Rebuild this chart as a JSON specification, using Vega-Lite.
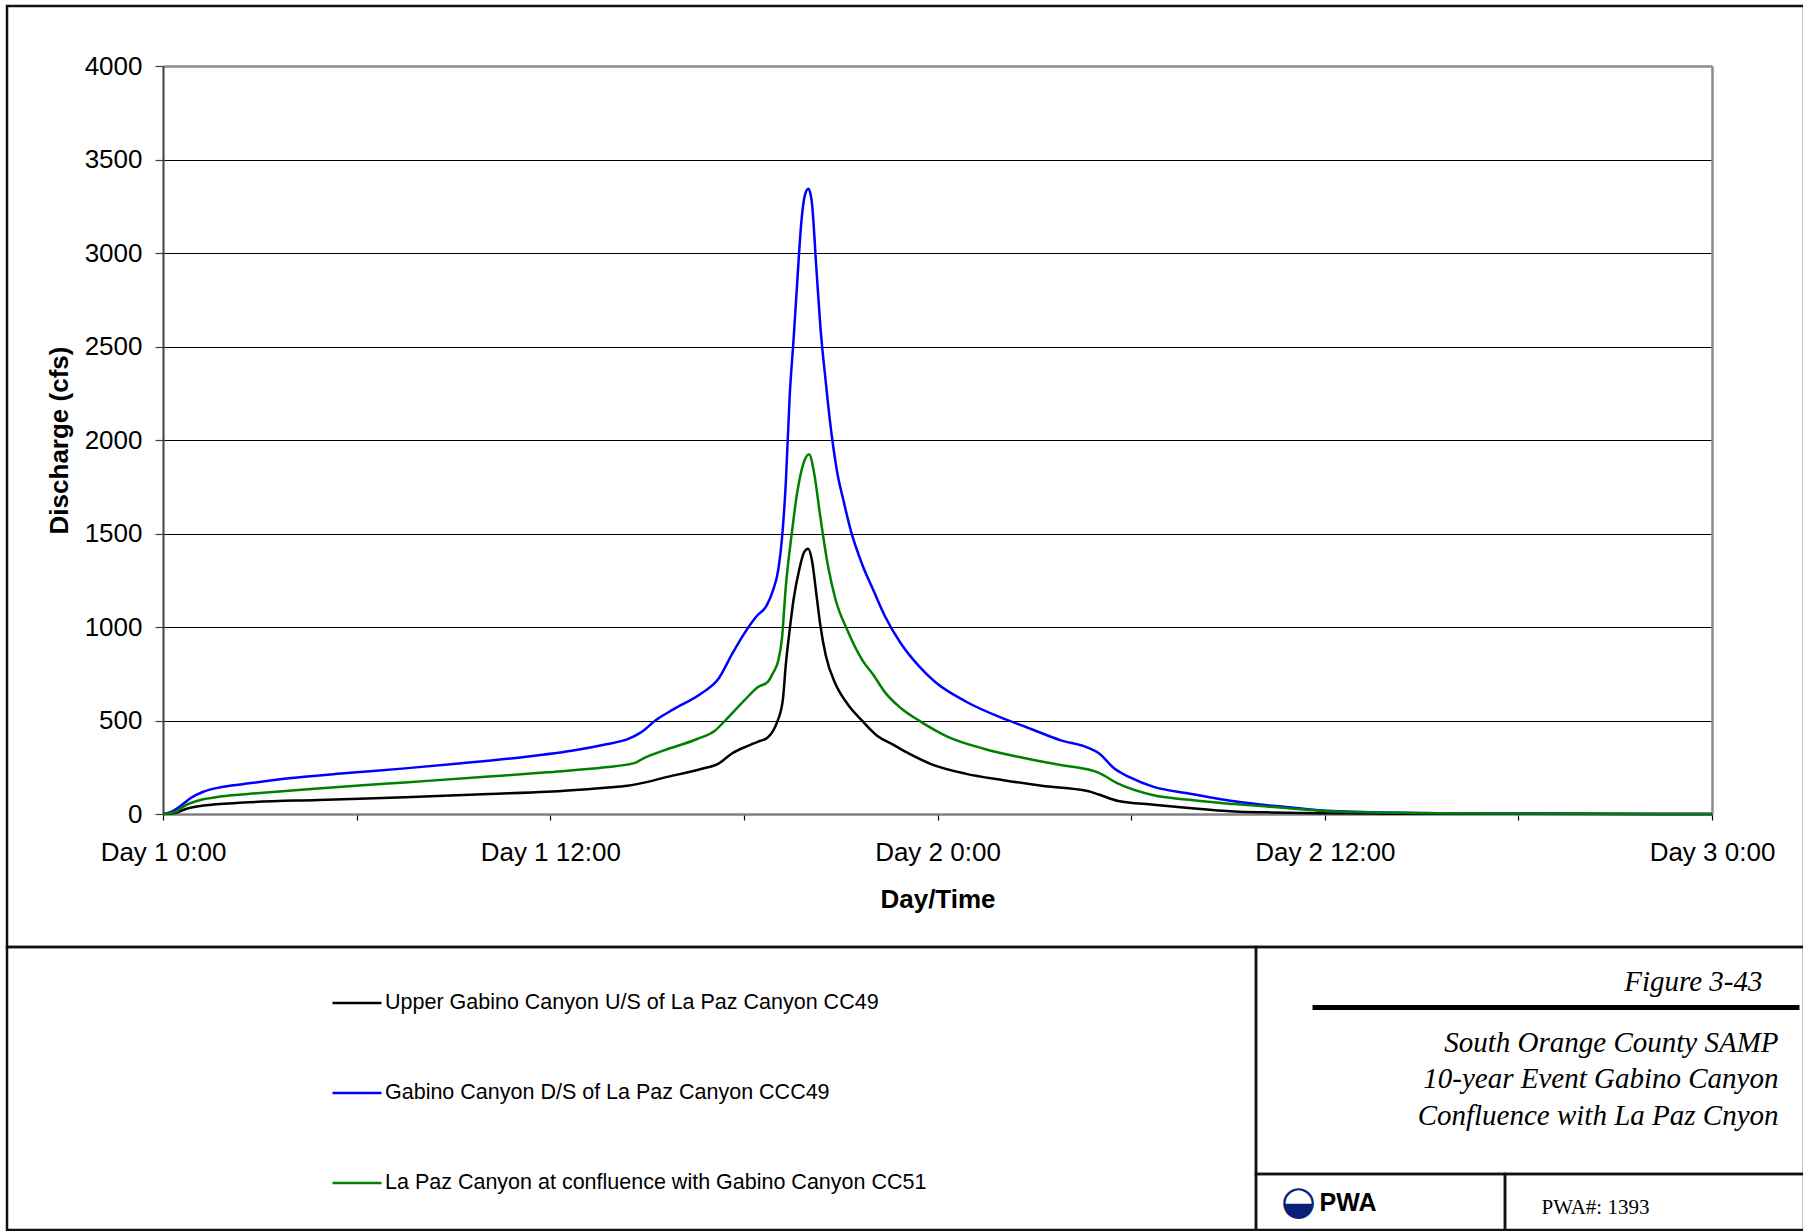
{
  "$schema": "https://vega.github.io/schema/vega-lite/v6.json",
  "background": "white",
  "padding": {"left": 5, "top": 4, "right": 1, "bottom": 3},
  "spacing": 0,
  "bounds": "flush",
  "config": {
    "view": {"stroke": "#111111", "strokeWidth": 2.5},
    "font": "Liberation Sans"
  },
  "vconcat": [
    {
      "width": 1797,
      "height": 941,
      "data": {"values": [
        {"series": "Upper Gabino Canyon U/S of La Paz Canyon CC49", "t": 0, "q": 0},
        {"series": "Upper Gabino Canyon U/S of La Paz Canyon CC49", "t": 0.36, "q": 5},
        {"series": "Upper Gabino Canyon U/S of La Paz Canyon CC49", "t": 0.71, "q": 27},
        {"series": "Upper Gabino Canyon U/S of La Paz Canyon CC49", "t": 1.25, "q": 45},
        {"series": "Upper Gabino Canyon U/S of La Paz Canyon CC49", "t": 2.5, "q": 61},
        {"series": "Upper Gabino Canyon U/S of La Paz Canyon CC49", "t": 4.8, "q": 75},
        {"series": "Upper Gabino Canyon U/S of La Paz Canyon CC49", "t": 7.5, "q": 89},
        {"series": "Upper Gabino Canyon U/S of La Paz Canyon CC49", "t": 10.1, "q": 107},
        {"series": "Upper Gabino Canyon U/S of La Paz Canyon CC49", "t": 11.9, "q": 119},
        {"series": "Upper Gabino Canyon U/S of La Paz Canyon CC49", "t": 13.7, "q": 141},
        {"series": "Upper Gabino Canyon U/S of La Paz Canyon CC49", "t": 14.4, "q": 151},
        {"series": "Upper Gabino Canyon U/S of La Paz Canyon CC49", "t": 14.95, "q": 169},
        {"series": "Upper Gabino Canyon U/S of La Paz Canyon CC49", "t": 15.5, "q": 193},
        {"series": "Upper Gabino Canyon U/S of La Paz Canyon CC49", "t": 16.7, "q": 242},
        {"series": "Upper Gabino Canyon U/S of La Paz Canyon CC49", "t": 17.2, "q": 268},
        {"series": "Upper Gabino Canyon U/S of La Paz Canyon CC49", "t": 17.64, "q": 325},
        {"series": "Upper Gabino Canyon U/S of La Paz Canyon CC49", "t": 18.12, "q": 364},
        {"series": "Upper Gabino Canyon U/S of La Paz Canyon CC49", "t": 18.47, "q": 389},
        {"series": "Upper Gabino Canyon U/S of La Paz Canyon CC49", "t": 18.72, "q": 406},
        {"series": "Upper Gabino Canyon U/S of La Paz Canyon CC49", "t": 18.89, "q": 440},
        {"series": "Upper Gabino Canyon U/S of La Paz Canyon CC49", "t": 19.04, "q": 495},
        {"series": "Upper Gabino Canyon U/S of La Paz Canyon CC49", "t": 19.21, "q": 614},
        {"series": "Upper Gabino Canyon U/S of La Paz Canyon CC49", "t": 19.3, "q": 800},
        {"series": "Upper Gabino Canyon U/S of La Paz Canyon CC49", "t": 19.42, "q": 985},
        {"series": "Upper Gabino Canyon U/S of La Paz Canyon CC49", "t": 19.54, "q": 1147},
        {"series": "Upper Gabino Canyon U/S of La Paz Canyon CC49", "t": 19.72, "q": 1310},
        {"series": "Upper Gabino Canyon U/S of La Paz Canyon CC49", "t": 19.87, "q": 1402},
        {"series": "Upper Gabino Canyon U/S of La Paz Canyon CC49", "t": 19.99, "q": 1419},
        {"series": "Upper Gabino Canyon U/S of La Paz Canyon CC49", "t": 20.11, "q": 1356},
        {"series": "Upper Gabino Canyon U/S of La Paz Canyon CC49", "t": 20.25, "q": 1171},
        {"series": "Upper Gabino Canyon U/S of La Paz Canyon CC49", "t": 20.37, "q": 1008},
        {"series": "Upper Gabino Canyon U/S of La Paz Canyon CC49", "t": 20.54, "q": 846},
        {"series": "Upper Gabino Canyon U/S of La Paz Canyon CC49", "t": 20.84, "q": 695},
        {"series": "Upper Gabino Canyon U/S of La Paz Canyon CC49", "t": 21.2, "q": 591},
        {"series": "Upper Gabino Canyon U/S of La Paz Canyon CC49", "t": 21.67, "q": 498},
        {"series": "Upper Gabino Canyon U/S of La Paz Canyon CC49", "t": 22.14, "q": 417},
        {"series": "Upper Gabino Canyon U/S of La Paz Canyon CC49", "t": 22.62, "q": 371},
        {"series": "Upper Gabino Canyon U/S of La Paz Canyon CC49", "t": 23.09, "q": 325},
        {"series": "Upper Gabino Canyon U/S of La Paz Canyon CC49", "t": 23.8, "q": 267},
        {"series": "Upper Gabino Canyon U/S of La Paz Canyon CC49", "t": 24.86, "q": 216},
        {"series": "Upper Gabino Canyon U/S of La Paz Canyon CC49", "t": 26.05, "q": 181},
        {"series": "Upper Gabino Canyon U/S of La Paz Canyon CC49", "t": 27.23, "q": 151},
        {"series": "Upper Gabino Canyon U/S of La Paz Canyon CC49", "t": 28.65, "q": 123},
        {"series": "Upper Gabino Canyon U/S of La Paz Canyon CC49", "t": 29.0, "q": 104},
        {"series": "Upper Gabino Canyon U/S of La Paz Canyon CC49", "t": 29.6, "q": 70},
        {"series": "Upper Gabino Canyon U/S of La Paz Canyon CC49", "t": 30.7, "q": 50},
        {"series": "Upper Gabino Canyon U/S of La Paz Canyon CC49", "t": 31.7, "q": 34},
        {"series": "Upper Gabino Canyon U/S of La Paz Canyon CC49", "t": 33.2, "q": 14},
        {"series": "Upper Gabino Canyon U/S of La Paz Canyon CC49", "t": 34.2, "q": 9},
        {"series": "Upper Gabino Canyon U/S of La Paz Canyon CC49", "t": 35.8, "q": 4},
        {"series": "Upper Gabino Canyon U/S of La Paz Canyon CC49", "t": 37.8, "q": 2},
        {"series": "Upper Gabino Canyon U/S of La Paz Canyon CC49", "t": 42, "q": 1},
        {"series": "Upper Gabino Canyon U/S of La Paz Canyon CC49", "t": 48, "q": 0},
        {"series": "Gabino Canyon D/S of La Paz Canyon CCC49", "t": 0, "q": 0},
        {"series": "Gabino Canyon D/S of La Paz Canyon CCC49", "t": 0.27, "q": 12},
        {"series": "Gabino Canyon D/S of La Paz Canyon CCC49", "t": 0.53, "q": 41},
        {"series": "Gabino Canyon D/S of La Paz Canyon CCC49", "t": 0.89, "q": 89},
        {"series": "Gabino Canyon D/S of La Paz Canyon CCC49", "t": 1.25, "q": 119},
        {"series": "Gabino Canyon D/S of La Paz Canyon CCC49", "t": 1.78, "q": 143},
        {"series": "Gabino Canyon D/S of La Paz Canyon CCC49", "t": 2.5, "q": 160},
        {"series": "Gabino Canyon D/S of La Paz Canyon CCC49", "t": 3.9, "q": 191},
        {"series": "Gabino Canyon D/S of La Paz Canyon CCC49", "t": 5.7, "q": 219},
        {"series": "Gabino Canyon D/S of La Paz Canyon CCC49", "t": 7.5, "q": 244},
        {"series": "Gabino Canyon D/S of La Paz Canyon CCC49", "t": 9.25, "q": 271},
        {"series": "Gabino Canyon D/S of La Paz Canyon CCC49", "t": 11.0, "q": 301},
        {"series": "Gabino Canyon D/S of La Paz Canyon CCC49", "t": 12.8, "q": 342},
        {"series": "Gabino Canyon D/S of La Paz Canyon CCC49", "t": 13.7, "q": 372},
        {"series": "Gabino Canyon D/S of La Paz Canyon CCC49", "t": 14.4, "q": 400},
        {"series": "Gabino Canyon D/S of La Paz Canyon CCC49", "t": 14.8, "q": 435},
        {"series": "Gabino Canyon D/S of La Paz Canyon CCC49", "t": 15.3, "q": 505},
        {"series": "Gabino Canyon D/S of La Paz Canyon CCC49", "t": 15.8, "q": 558},
        {"series": "Gabino Canyon D/S of La Paz Canyon CCC49", "t": 16.7, "q": 647},
        {"series": "Gabino Canyon D/S of La Paz Canyon CCC49", "t": 17.2, "q": 720},
        {"series": "Gabino Canyon D/S of La Paz Canyon CCC49", "t": 17.65, "q": 860},
        {"series": "Gabino Canyon D/S of La Paz Canyon CCC49", "t": 18.0, "q": 962},
        {"series": "Gabino Canyon D/S of La Paz Canyon CCC49", "t": 18.4, "q": 1059},
        {"series": "Gabino Canyon D/S of La Paz Canyon CCC49", "t": 18.7, "q": 1113},
        {"series": "Gabino Canyon D/S of La Paz Canyon CCC49", "t": 18.9, "q": 1194},
        {"series": "Gabino Canyon D/S of La Paz Canyon CCC49", "t": 19.07, "q": 1310},
        {"series": "Gabino Canyon D/S of La Paz Canyon CCC49", "t": 19.18, "q": 1472},
        {"series": "Gabino Canyon D/S of La Paz Canyon CCC49", "t": 19.3, "q": 1773},
        {"series": "Gabino Canyon D/S of La Paz Canyon CCC49", "t": 19.42, "q": 2237},
        {"series": "Gabino Canyon D/S of La Paz Canyon CCC49", "t": 19.54, "q": 2538},
        {"series": "Gabino Canyon D/S of La Paz Canyon CCC49", "t": 19.66, "q": 2863},
        {"series": "Gabino Canyon D/S of La Paz Canyon CCC49", "t": 19.78, "q": 3164},
        {"series": "Gabino Canyon D/S of La Paz Canyon CCC49", "t": 19.9, "q": 3315},
        {"series": "Gabino Canyon D/S of La Paz Canyon CCC49", "t": 20.0, "q": 3343},
        {"series": "Gabino Canyon D/S of La Paz Canyon CCC49", "t": 20.1, "q": 3280},
        {"series": "Gabino Canyon D/S of La Paz Canyon CCC49", "t": 20.25, "q": 2909},
        {"series": "Gabino Canyon D/S of La Paz Canyon CCC49", "t": 20.37, "q": 2608},
        {"series": "Gabino Canyon D/S of La Paz Canyon CCC49", "t": 20.54, "q": 2306},
        {"series": "Gabino Canyon D/S of La Paz Canyon CCC49", "t": 20.72, "q": 2028},
        {"series": "Gabino Canyon D/S of La Paz Canyon CCC49", "t": 20.9, "q": 1820},
        {"series": "Gabino Canyon D/S of La Paz Canyon CCC49", "t": 21.08, "q": 1681},
        {"series": "Gabino Canyon D/S of La Paz Canyon CCC49", "t": 21.31, "q": 1518},
        {"series": "Gabino Canyon D/S of La Paz Canyon CCC49", "t": 21.67, "q": 1333},
        {"series": "Gabino Canyon D/S of La Paz Canyon CCC49", "t": 22.02, "q": 1194},
        {"series": "Gabino Canyon D/S of La Paz Canyon CCC49", "t": 22.38, "q": 1055},
        {"series": "Gabino Canyon D/S of La Paz Canyon CCC49", "t": 22.85, "q": 916},
        {"series": "Gabino Canyon D/S of La Paz Canyon CCC49", "t": 23.44, "q": 788},
        {"series": "Gabino Canyon D/S of La Paz Canyon CCC49", "t": 23.92, "q": 707},
        {"series": "Gabino Canyon D/S of La Paz Canyon CCC49", "t": 24.86, "q": 603},
        {"series": "Gabino Canyon D/S of La Paz Canyon CCC49", "t": 26.05, "q": 510},
        {"series": "Gabino Canyon D/S of La Paz Canyon CCC49", "t": 26.76, "q": 464},
        {"series": "Gabino Canyon D/S of La Paz Canyon CCC49", "t": 27.82, "q": 394},
        {"series": "Gabino Canyon D/S of La Paz Canyon CCC49", "t": 28.65, "q": 355},
        {"series": "Gabino Canyon D/S of La Paz Canyon CCC49", "t": 29.0, "q": 325},
        {"series": "Gabino Canyon D/S of La Paz Canyon CCC49", "t": 29.48, "q": 243},
        {"series": "Gabino Canyon D/S of La Paz Canyon CCC49", "t": 29.95, "q": 197},
        {"series": "Gabino Canyon D/S of La Paz Canyon CCC49", "t": 30.7, "q": 145},
        {"series": "Gabino Canyon D/S of La Paz Canyon CCC49", "t": 31.7, "q": 112},
        {"series": "Gabino Canyon D/S of La Paz Canyon CCC49", "t": 33.2, "q": 68},
        {"series": "Gabino Canyon D/S of La Paz Canyon CCC49", "t": 34.8, "q": 37},
        {"series": "Gabino Canyon D/S of La Paz Canyon CCC49", "t": 35.8, "q": 20},
        {"series": "Gabino Canyon D/S of La Paz Canyon CCC49", "t": 37.4, "q": 9},
        {"series": "Gabino Canyon D/S of La Paz Canyon CCC49", "t": 39.9, "q": 4},
        {"series": "Gabino Canyon D/S of La Paz Canyon CCC49", "t": 44.6, "q": 1},
        {"series": "Gabino Canyon D/S of La Paz Canyon CCC49", "t": 48, "q": 0},
        {"series": "La Paz Canyon at confluence with Gabino Canyon CC51", "t": 0, "q": 0},
        {"series": "La Paz Canyon at confluence with Gabino Canyon CC51", "t": 0.36, "q": 9},
        {"series": "La Paz Canyon at confluence with Gabino Canyon CC51", "t": 0.71, "q": 48},
        {"series": "La Paz Canyon at confluence with Gabino Canyon CC51", "t": 1.16, "q": 75},
        {"series": "La Paz Canyon at confluence with Gabino Canyon CC51", "t": 1.78, "q": 93},
        {"series": "La Paz Canyon at confluence with Gabino Canyon CC51", "t": 3.0, "q": 112},
        {"series": "La Paz Canyon at confluence with Gabino Canyon CC51", "t": 4.8, "q": 137},
        {"series": "La Paz Canyon at confluence with Gabino Canyon CC51", "t": 7.5, "q": 169},
        {"series": "La Paz Canyon at confluence with Gabino Canyon CC51", "t": 10.1, "q": 200},
        {"series": "La Paz Canyon at confluence with Gabino Canyon CC51", "t": 11.9, "q": 223},
        {"series": "La Paz Canyon at confluence with Gabino Canyon CC51", "t": 13.7, "q": 250},
        {"series": "La Paz Canyon at confluence with Gabino Canyon CC51", "t": 14.6, "q": 272},
        {"series": "La Paz Canyon at confluence with Gabino Canyon CC51", "t": 14.95, "q": 303},
        {"series": "La Paz Canyon at confluence with Gabino Canyon CC51", "t": 15.5, "q": 339},
        {"series": "La Paz Canyon at confluence with Gabino Canyon CC51", "t": 16.55, "q": 401},
        {"series": "La Paz Canyon at confluence with Gabino Canyon CC51", "t": 17.1, "q": 445},
        {"series": "La Paz Canyon at confluence with Gabino Canyon CC51", "t": 17.45, "q": 505},
        {"series": "La Paz Canyon at confluence with Gabino Canyon CC51", "t": 18.0, "q": 605},
        {"series": "La Paz Canyon at confluence with Gabino Canyon CC51", "t": 18.45, "q": 680},
        {"series": "La Paz Canyon at confluence with Gabino Canyon CC51", "t": 18.75, "q": 708},
        {"series": "La Paz Canyon at confluence with Gabino Canyon CC51", "t": 18.9, "q": 753},
        {"series": "La Paz Canyon at confluence with Gabino Canyon CC51", "t": 19.07, "q": 823},
        {"series": "La Paz Canyon at confluence with Gabino Canyon CC51", "t": 19.18, "q": 939},
        {"series": "La Paz Canyon at confluence with Gabino Canyon CC51", "t": 19.3, "q": 1217},
        {"series": "La Paz Canyon at confluence with Gabino Canyon CC51", "t": 19.48, "q": 1495},
        {"series": "La Paz Canyon at confluence with Gabino Canyon CC51", "t": 19.66, "q": 1727},
        {"series": "La Paz Canyon at confluence with Gabino Canyon CC51", "t": 19.83, "q": 1866},
        {"series": "La Paz Canyon at confluence with Gabino Canyon CC51", "t": 20.02, "q": 1924},
        {"series": "La Paz Canyon at confluence with Gabino Canyon CC51", "t": 20.18, "q": 1820},
        {"series": "La Paz Canyon at confluence with Gabino Canyon CC51", "t": 20.37, "q": 1588},
        {"series": "La Paz Canyon at confluence with Gabino Canyon CC51", "t": 20.6, "q": 1333},
        {"series": "La Paz Canyon at confluence with Gabino Canyon CC51", "t": 20.84, "q": 1147},
        {"series": "La Paz Canyon at confluence with Gabino Canyon CC51", "t": 21.2, "q": 985},
        {"series": "La Paz Canyon at confluence with Gabino Canyon CC51", "t": 21.67, "q": 823},
        {"series": "La Paz Canyon at confluence with Gabino Canyon CC51", "t": 22.02, "q": 742},
        {"series": "La Paz Canyon at confluence with Gabino Canyon CC51", "t": 22.38, "q": 649},
        {"series": "La Paz Canyon at confluence with Gabino Canyon CC51", "t": 22.85, "q": 568},
        {"series": "La Paz Canyon at confluence with Gabino Canyon CC51", "t": 23.44, "q": 498},
        {"series": "La Paz Canyon at confluence with Gabino Canyon CC51", "t": 24.27, "q": 417},
        {"series": "La Paz Canyon at confluence with Gabino Canyon CC51", "t": 25.46, "q": 348},
        {"series": "La Paz Canyon at confluence with Gabino Canyon CC51", "t": 26.64, "q": 301},
        {"series": "La Paz Canyon at confluence with Gabino Canyon CC51", "t": 27.82, "q": 262},
        {"series": "La Paz Canyon at confluence with Gabino Canyon CC51", "t": 28.65, "q": 239},
        {"series": "La Paz Canyon at confluence with Gabino Canyon CC51", "t": 29.0, "q": 220},
        {"series": "La Paz Canyon at confluence with Gabino Canyon CC51", "t": 29.6, "q": 162},
        {"series": "La Paz Canyon at confluence with Gabino Canyon CC51", "t": 30.7, "q": 100},
        {"series": "La Paz Canyon at confluence with Gabino Canyon CC51", "t": 31.7, "q": 77},
        {"series": "La Paz Canyon at confluence with Gabino Canyon CC51", "t": 33.2, "q": 53},
        {"series": "La Paz Canyon at confluence with Gabino Canyon CC51", "t": 34.8, "q": 32},
        {"series": "La Paz Canyon at confluence with Gabino Canyon CC51", "t": 35.8, "q": 18},
        {"series": "La Paz Canyon at confluence with Gabino Canyon CC51", "t": 37.4, "q": 9},
        {"series": "La Paz Canyon at confluence with Gabino Canyon CC51", "t": 39.9, "q": 4},
        {"series": "La Paz Canyon at confluence with Gabino Canyon CC51", "t": 44.6, "q": 1},
        {"series": "La Paz Canyon at confluence with Gabino Canyon CC51", "t": 48, "q": 0}
      ]},
      "encoding": {
        "x": {
          "field": "t", "type": "quantitative",
          "scale": {"domain": [0, 48], "range": [156, 1705], "nice": false, "zero": false},
          "axis": {
            "values": [0, 6, 12, 18, 24, 30, 36, 42, 48],
            "offset": -133,
            "labelExpr": "datum.value % 12 === 0 ? 'Day ' + (floor(datum.value / 24) + 1) + ' ' + (datum.value % 24) + ':00' : ''",
            "labelFlush": false, "labelOverlap": false, "labelBound": false,
            "labelFont": "Liberation Sans", "labelFontSize": 26, "labelColor": "#000000", "labelPadding": 19,
            "domainColor": "#808080", "domainWidth": 2.5,
            "tickColor": "#000000", "tickSize": 6, "tickWidth": 1.2,
            "grid": false,
            "title": "Day/Time", "titleFont": "Liberation Sans", "titleFontSize": 26, "titleFontWeight": "bold", "titleColor": "#000000", "titlePadding": 21
          }
        },
        "color": {
          "field": "series", "type": "nominal",
          "scale": {
            "domain": ["Upper Gabino Canyon U/S of La Paz Canyon CC49", "Gabino Canyon D/S of La Paz Canyon CCC49", "La Paz Canyon at confluence with Gabino Canyon CC51"],
            "range": ["#000000", "#0000ff", "#008000"]
          },
          "legend": {
            "orient": "none", "legendX": 324, "legendY": 971, "padding": 0,
            "title": null, "symbolType": "stroke", "symbolSize": 2401, "symbolStrokeWidth": 2.5,
            "labelFont": "Liberation Sans", "labelFontSize": 21.5, "labelColor": "#000000", "labelOffset": 2, "labelLimit": 0,
            "rowPadding": 53
          }
        }
      },
      "layer": [
        {
          "transform": [{"filter": "datum.series !== 'La Paz Canyon at confluence with Gabino Canyon CC51'"}],
          "mark": {"type": "line", "strokeWidth": 2.5, "interpolate": "monotone", "clip": false},
          "encoding": {
            "y": {
              "field": "q", "type": "quantitative",
              "scale": {"domain": [0, 4000], "range": [808, 60], "nice": false, "zero": false},
              "axis": {
                "orient": "left",
                "values": [0, 500, 1000, 1500, 2000, 2500, 3000, 3500, 4000],
                "format": "d",
                "offset": -156,
                "labelFont": "Liberation Sans", "labelFontSize": 26, "labelColor": "#000000", "labelPadding": 13,
                "domainColor": "#404040", "domainWidth": 2,
                "tickColor": "#404040", "tickSize": 8, "tickWidth": 1.2,
                "grid": true,
                "gridColor": {"condition": {"test": "datum.value === 4000", "value": "#8c8c8c"}, "value": "#000000"},
                "gridWidth": {"condition": {"test": "datum.value === 4000", "value": 2.5}, "value": 1},
                "title": "Discharge (cfs)", "titleFont": "Liberation Sans", "titleFontSize": 26, "titleFontWeight": "bold", "titleColor": "#000000", "titlePadding": 12
              }
            }
          }
        },
        {
          "transform": [{"filter": "datum.series === 'La Paz Canyon at confluence with Gabino Canyon CC51'"}],
          "mark": {"type": "line", "strokeWidth": 2.5, "interpolate": "monotone", "clip": false},
          "encoding": {
            "y": {
              "field": "q", "type": "quantitative",
              "scale": {"domain": [0, 4000], "range": [808, 60], "nice": false, "zero": false},
              "axis": {
                "orient": "right", "offset": -92,
                "domain": true, "domainColor": "#8c8c8c", "domainWidth": 2.5,
                "ticks": false, "labels": false, "grid": false, "title": null
              }
            }
          }
        }
      ],
      "resolve": {"axis": {"y": "independent"}}
    },
    {
      "spacing": 0,
      "bounds": "flush",
      "hconcat": [
        {
          "width": 1249, "height": 283,
          "data": {"values": []},
          "mark": "point",
          "encoding": {
            "x": {"field": "v", "type": "quantitative", "scale": {"domain": [0, 1]}, "axis": null}
          }
        },
        {
          "spacing": 0,
          "bounds": "flush",
          "vconcat": [
            {
              "width": 548, "height": 227,
              "data": {"values": []},
              "mark": "point",
              "encoding": {
                "x": {
                  "field": "v", "type": "quantitative",
                  "scale": {"domain": [0, 1], "range": [56, 543]},
                  "axis": {
                    "orient": "top", "offset": -60,
                    "domain": true, "domainWidth": 5, "domainColor": "#000000",
                    "ticks": false, "labels": false, "grid": false,
                    "title": "Figure 3-43", "titleFont": "Liberation Serif", "titleFontStyle": "italic", "titleFontWeight": "normal",
                    "titleFontSize": 29, "titleColor": "#000000",
                    "titleX": 506, "titleY": -17, "titleAlign": "right", "titleBaseline": "alphabetic", "titleAngle": 0
                  }
                },
                "y": {
                  "field": "w", "type": "quantitative",
                  "scale": {"domain": [0, 1]},
                  "axis": {
                    "orient": "left", "domain": false, "ticks": false, "labels": false, "grid": false,
                    "title": ["South Orange County SAMP", "10-year Event Gabino Canyon", "Confluence with La Paz Cnyon"],
                    "titleFont": "Liberation Serif", "titleFontStyle": "italic", "titleFontWeight": "normal",
                    "titleFontSize": 29, "titleLineHeight": 36.5, "titleColor": "#000000",
                    "titleX": 522, "titleY": 104, "titleAlign": "right", "titleBaseline": "alphabetic", "titleAngle": 0
                  }
                }
              }
            },
            {
              "spacing": 0,
              "bounds": "flush",
              "hconcat": [
                {
                  "width": 249, "height": 56,
                  "data": {"values": []},
                  "mark": "point",
                  "encoding": {
                    "x": {
                      "field": "v", "type": "quantitative",
                      "scale": {"domain": [0, 1]},
                      "axis": {
                        "orient": "top", "domain": false, "ticks": false, "labels": false, "grid": false,
                        "title": "◒", "titleFont": "DejaVu Sans", "titleFontSize": 40, "titleFontWeight": "normal", "titleColor": "#0a1f78",
                        "titleX": 42, "titleY": 39, "titleAlign": "center", "titleBaseline": "alphabetic", "titleAngle": 0
                      }
                    },
                    "y": {
                      "field": "w", "type": "quantitative",
                      "scale": {"domain": [0, 1]},
                      "axis": {
                        "orient": "left", "domain": false, "ticks": false, "labels": false, "grid": false,
                        "title": "PWA", "titleFont": "Liberation Sans", "titleFontSize": 25, "titleFontWeight": "bold", "titleColor": "#000000",
                        "titleX": 63, "titleY": 36, "titleAlign": "left", "titleBaseline": "alphabetic", "titleAngle": 0
                      }
                    }
                  }
                },
                {
                  "width": 299, "height": 56,
                  "data": {"values": []},
                  "mark": "point",
                  "encoding": {
                    "x": {
                      "field": "v", "type": "quantitative",
                      "scale": {"domain": [0, 1]},
                      "axis": {
                        "orient": "top", "domain": false, "ticks": false, "labels": false, "grid": false,
                        "title": "PWA#: 1393", "titleFont": "Liberation Serif", "titleFontSize": 21, "titleFontWeight": "normal", "titleColor": "#000000",
                        "titleX": 36, "titleY": 39, "titleAlign": "left", "titleBaseline": "alphabetic", "titleAngle": 0
                      }
                    }
                  }
                }
              ]
            }
          ]
        }
      ]
    }
  ]
}
